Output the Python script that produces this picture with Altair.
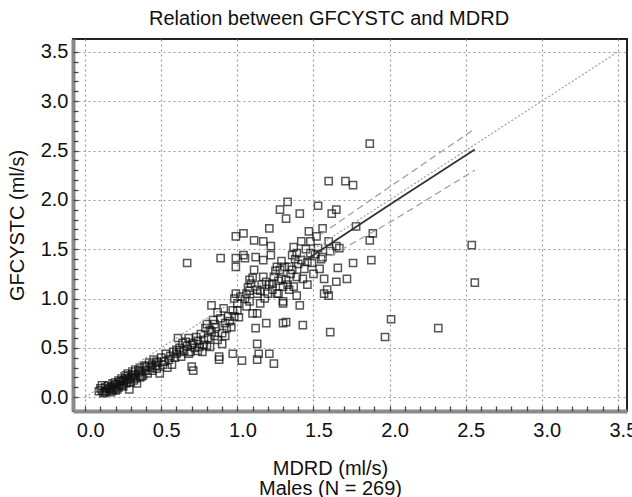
import altair as alt
import pandas as pd

# ---- scatter values (MDRD, GFCYSTC), males N = 269 ----
mdrd_low = [0.09,0.10,0.11,0.12,0.13,0.14,0.15,0.16,0.16,0.17,0.18,0.19,0.20,0.20,0.21,0.22,0.22,0.23,0.24,0.25,
            0.25,0.26,0.27,0.28,0.28,0.29,0.30,0.31,0.32,0.32,0.33,0.34,0.35,0.36,0.36,0.37,0.38,0.39,0.40,0.41,
            0.42,0.43,0.44,0.45,0.46,0.47,0.48,0.49,0.50,0.51,0.52,0.53,0.54]
gfc_low = [0.06,0.09,0.07,0.04,0.10,0.06,0.12,0.08,0.11,0.05,0.14,0.09,0.07,0.15,0.12,0.10,0.17,0.13,0.19,0.11,
           0.16,0.21,0.14,0.18,0.24,0.08,0.20,0.26,0.17,0.22,0.28,0.14,0.24,0.20,0.30,0.26,0.22,0.32,0.27,0.24,
           0.35,0.30,0.27,0.38,0.32,0.29,0.35,0.24,0.40,0.33,0.36,0.44,0.30]

mdrd_mid = [0.55,0.56,0.57,0.58,0.59,0.60,0.60,0.61,0.62,0.63,0.64,0.65,0.66,0.67,0.68,0.68,0.69,0.70,0.71,0.71,
            0.72,0.73,0.74,0.75,0.76,0.77,0.78,0.79,0.80,0.80,0.81,0.82,0.83,0.83,0.84,0.85,0.86,0.87,0.87,0.88,
            0.88,0.89,0.90,0.90,0.91,0.92,0.93,0.94,0.95,0.67,0.89]
gfc_mid = [0.38,0.42,0.33,0.46,0.40,0.48,0.44,0.60,0.50,0.41,0.55,0.47,0.56,0.52,0.44,0.60,0.46,0.31,0.27,0.55,
           0.50,0.61,0.47,0.51,0.64,0.46,0.58,0.70,0.52,0.74,0.60,0.51,0.93,0.66,0.78,0.62,0.71,0.86,0.58,0.41,
           0.38,0.80,0.65,0.54,0.90,0.75,0.70,0.82,0.77,1.36,1.41]

mdrd_high = [0.96,0.97,0.97,0.98,0.98,0.99,0.99,0.99,0.99,1.00,
             1.01,1.02,1.03,1.04,1.04,1.05,1.05,1.06,1.07,1.08,
             1.08,1.08,1.10,1.10,1.11,1.11,1.12,1.12,1.13,1.13,
             1.13,1.13,1.13,1.14,1.15,1.16,1.17,1.17,1.17,1.18,
             1.19,1.20,1.21,1.21,1.21,1.22,1.22,1.23,1.24,1.24,
             1.25,1.26,1.26,1.27,1.28,1.28,1.29,1.30,1.30,1.30,
             1.30,1.31,1.32,1.32,1.32,1.33,1.33,1.34,1.35,1.36,
             1.37,1.37,1.38,1.39,1.39,1.39,1.40,1.41,1.41,1.42,
             1.42,1.43,1.44,1.45,1.46,1.47,1.48,1.48,1.49,1.50,
             1.52,1.53,1.53,1.55,1.56,1.56,1.57,1.57,1.59,1.60,
             1.60,1.60,1.61,1.61,1.62,1.65,1.65,1.66,1.65,1.67,
             1.71,1.72,1.76,1.76,1.78,1.87,1.88,1.89]
gfc_high = [0.71,0.44,0.88,1.00,0.82,1.05,1.63,1.41,1.32,0.95,
            0.81,1.02,0.37,1.66,1.44,1.00,1.41,0.92,1.11,1.08,
            1.19,0.97,0.85,1.21,1.59,1.29,0.70,1.42,0.54,0.38,
            1.05,0.85,1.09,0.44,0.95,1.14,1.58,1.39,1.22,1.00,
            0.75,1.05,1.71,0.44,1.14,1.44,1.53,1.15,0.34,1.22,
            1.28,1.05,1.32,1.05,1.90,1.29,1.20,0.97,0.75,0.95,
            1.12,1.32,1.81,1.19,0.76,1.98,1.14,1.32,1.25,1.29,
            1.52,1.12,1.40,1.22,1.03,1.46,1.35,1.86,0.93,1.58,
            1.39,0.73,1.30,1.50,1.14,1.68,1.58,1.46,1.36,1.25,
            1.63,1.94,1.51,1.40,1.71,1.42,1.20,1.05,1.09,1.03,
            2.19,1.58,1.48,0.66,1.86,1.53,1.90,1.31,1.17,1.51,
            2.19,1.20,2.15,1.36,1.73,1.59,1.39,1.66]

mdrd_out = [1.87,2.54,2.56,2.01,1.97,2.32]
gfc_out = [2.57,1.54,1.16,0.79,0.61,0.70]

mdrd_low2 = [0.11,0.13,0.14,0.17,0.18,0.19,0.21,0.23,0.24,0.26,0.27,0.29,0.30,0.31,0.33,0.35,0.37,0.40,0.44,0.47]
gfc_low2 = [0.12,0.05,0.09,0.10,0.07,0.13,0.08,0.16,0.12,0.17,0.22,0.19,0.15,0.23,0.19,0.27,0.21,0.31,0.33,0.36]

mdrd_mid2 = [0.62,0.70,0.74,0.78,0.82,0.85,0.92,1.00,1.06,1.09,1.15,1.19,1.23,1.27,1.29,1.34,1.36,1.43,1.46,1.51,1.54]
gfc_mid2 = [0.46,0.53,0.57,0.53,0.68,0.74,0.62,0.88,1.05,1.15,1.08,1.17,1.09,1.18,1.38,1.09,1.44,1.20,1.37,1.45,1.30]

mdrd = mdrd_low + mdrd_mid + mdrd_high + mdrd_out + mdrd_low2 + mdrd_mid2
gfcystc = gfc_low + gfc_mid + gfc_high + gfc_out + gfc_low2 + gfc_mid2
assert len(mdrd) == len(gfcystc)

# ---- reference lines ----
identity_x = [0.0, 3.5]
identity_y = [0.0, 3.5]
reg_x = [1.45, 2.0, 2.56]
reg_y = [1.39, 1.95, 2.51]
band_x = [1.55, 2.0, 2.56]
upper_y = [1.65, 2.13, 2.72]
lower_y = [1.38, 1.77, 2.30]

major_ticks = [0.0, 0.5, 1.0, 1.5, 2.0, 2.5, 3.0, 3.5]
minor_ticks = [0.0,0.1,0.2,0.3,0.4,0.5,0.6,0.7,0.8,0.9,1.0,1.1,1.2,1.3,1.4,1.5,1.6,1.7,1.8,
               1.9,2.0,2.1,2.2,2.3,2.4,2.5,2.6,2.7,2.8,2.9,3.0,3.1,3.2,3.3,3.4,3.5]

FONT = "Liberation Sans"
xscale = alt.Scale(domain=[-0.08, 3.56], nice=False, zero=False)
yscale = alt.Scale(domain=[-0.14, 3.63], nice=False, zero=False)

pts = pd.DataFrame({"mdrd": mdrd, "gfcystc": gfcystc})
ident = pd.DataFrame({"x": identity_x, "y": identity_y})
reg = pd.DataFrame({"x": reg_x, "y": reg_y})
band_u = pd.DataFrame({"x": band_x, "y": upper_y})
band_l = pd.DataFrame({"x": band_x, "y": lower_y})

grid_kw = dict(grid=True, gridColor="#9a9a9a", gridDash=[2, 3], gridWidth=1.2, ticks=False,
               domain=True, domainColor="#8a8a8a", domainWidth=4,
               labelFont=FONT, labelFontSize=20, labelColor="#111", labelFlush=False,
               titleFont=FONT, titleFontSize=20, titleFontWeight="normal", titleColor="#111",
               values=major_ticks, format=".1f")

points = alt.Chart(pts).mark_square(filled=False, size=52, stroke="#111", strokeWidth=1.5).encode(
    x=alt.X("mdrd:Q", scale=xscale, axis=alt.Axis(
        orient="bottom", labelPadding=9, labelOffset=5,
        title=["MDRD (ml/s)", "Males (N = 269)"], titleX=257, titleY=47, titleBaseline="top",
        titleAlign="center", titleLineHeight=20, **grid_kw)),
    y=alt.Y("gfcystc:Q", scale=yscale, axis=alt.Axis(
        orient="left", labelPadding=5,
        title="GFCYSTC (ml/s)", titleX=-46, titleY=186, titleAngle=-90, titleAlign="center",
        titleBaseline="bottom", **grid_kw)),
)

minor_kw = dict(values=minor_ticks, labels=False, grid=False, domain=False, ticks=True,
                tickSize=5, offset=-5, tickColor="#444", tickWidth=1.3, title=None)

identity = alt.Chart(ident).mark_line(color="#a0a0a0", strokeWidth=1.2, strokeDash=[2, 2]).encode(
    x=alt.X("x:Q", scale=xscale, axis=alt.Axis(orient="bottom", **minor_kw)),
    y=alt.Y("y:Q", scale=yscale, axis=alt.Axis(orient="left", **minor_kw)),
)

regline = alt.Chart(reg).mark_line(color="#333333", strokeWidth=1.8).encode(
    x=alt.X("x:Q", scale=xscale, axis=None),
    y=alt.Y("y:Q", scale=yscale, axis=None),
)
upper = alt.Chart(band_u).mark_line(color="#9a9a9a", strokeWidth=1.2, strokeDash=[7, 4]).encode(
    x=alt.X("x:Q", scale=xscale, axis=None),
    y=alt.Y("y:Q", scale=yscale, axis=None),
)
lower = alt.Chart(band_l).mark_line(color="#9a9a9a", strokeWidth=1.2, strokeDash=[7, 4]).encode(
    x=alt.X("x:Q", scale=xscale, axis=None),
    y=alt.Y("y:Q", scale=yscale, axis=None),
)

chart = alt.layer(points, identity, upper, lower, regline).resolve_axis(
    x="independent", y="independent"
).properties(
    width=554, height=372,
    autosize=alt.AutoSizeParams(type="none"),
    padding={"left": 73, "top": 39, "right": 5, "bottom": 86},
    background="white",
    title=alt.TitleParams("Relation between GFCYSTC and MDRD", font=FONT, fontSize=20,
                          fontWeight="normal", color="#111", anchor="middle", frame="group",
                          dx=-21, dy=21, offset=15, baseline="alphabetic"),
).configure_view(stroke="#222", strokeWidth=2)

chart.save("out.html", embed_options={"renderer": "svg", "actions": False})
